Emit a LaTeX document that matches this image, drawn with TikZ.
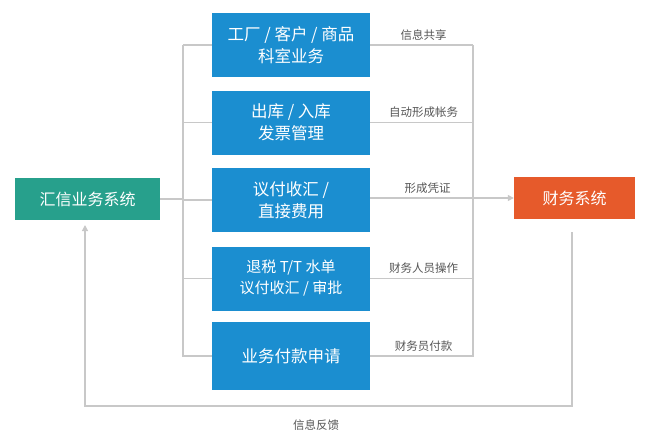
\documentclass[tikz,border=0pt]{standalone}
\usepackage{fontspec}
\setmainfont{Noto Sans CJK SC}
\usetikzlibrary{arrows.meta}
\definecolor{bl}{HTML}{1B8ED0}
\definecolor{tl}{HTML}{27A08C}
\definecolor{og}{HTML}{E65A2B}
\definecolor{ln}{HTML}{C8C8C8}
\definecolor{tx}{HTML}{555555}
\begin{document}
\begin{tikzpicture}[x=1pt,y=-1pt,
 bbox/.style={fill=bl,text=white,minimum width=158pt,minimum height=64pt,align=center,font=\fontsize{16.5}{22}\selectfont,inner sep=0},
 sbox/.style={text=white,minimum height=42pt,font=\fontsize{16}{18}\selectfont,inner sep=0},
 gl/.style={draw=ln,line width=1.2pt},
 lab/.style={text=tx,font=\fontsize{11.5}{13}\selectfont,inner sep=1pt}]
\useasboundingbox (0,0) rectangle (656,442);
\node[sbox,fill=tl,minimum width=145pt] (L) at (87.5,199) {汇信业务系统};
\node[sbox,fill=og,minimum width=121pt] (R) at (574.5,198) {财务系统};
\node[bbox] (b1) at (291,45) {工厂 / 客户 / 商品\\科室业务};
\node[bbox] (b2) at (291,122.5) {出库 / 入库\\发票管理};
\node[bbox] (b3) at (291,200) {议付收汇 /\\直接费用};
\node[bbox,font=\fontsize{15}{21}\selectfont] (b4) at (291,278.5) {退税 T/T 水单\\议付收汇 / 审批};
\node[bbox,minimum height=68pt] (b5) at (291,356) {业务付款申请};
\coordinate (lt) at (183,45); \coordinate (lb) at (183,357);
\draw[gl] (lt)--(lb);
\draw[gl] (L.east)--(183,199);
\foreach \b in {b1,b2,b3,b4,b5}{\draw[gl] (183,0 |- \b.west)--(\b.west);}
\draw[gl] (473,45)--(473,357);
\foreach \b/\t in {b1/信息共享,b2/自动形成帐务,b4/财务人员操作,b5/财务员付款}{
 \draw[gl] (\b.east)--(473,0 |- \b.east) node[lab,midway,above=3pt,xshift=2pt]{\t};}
\draw[gl,-{Triangle[length=6pt,width=6pt]}] (b3.east|-R.west)--(R.west) node[lab,pos=0.4,above=3pt]{形成凭证};
\draw[gl,-{Triangle[length=6pt,width=6pt]}] (572,232)--(572,406)--(85,406)--(85,225);
\node[lab] (fb) at (316,425) {信息反馈};
\end{tikzpicture}
\end{document}
